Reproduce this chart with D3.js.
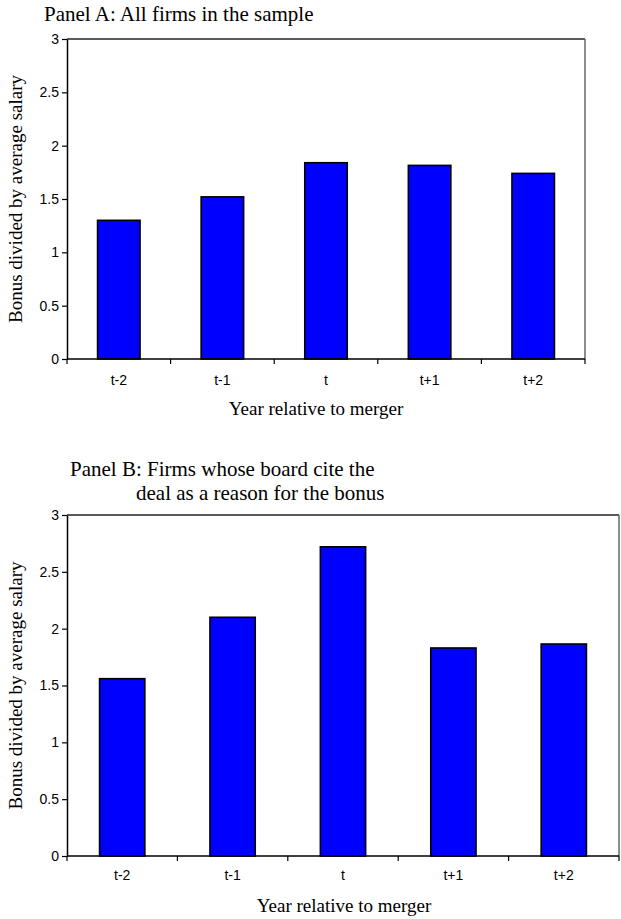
<!DOCTYPE html>
<html><head><meta charset="utf-8">
<script src="https://cdn.jsdelivr.net/npm/d3@7"></script>
<style>body{margin:0;background:#fff;} svg{display:block;}</style>
</head><body>
<script>
const categories = ["t-2","t-1","t","t+1","t+2"];
const valuesA = [1.30, 1.52, 1.84, 1.815, 1.74];
const valuesB = [1.56, 2.10, 2.72, 1.83, 1.865];
const yTicks = [0, 0.5, 1, 1.5, 2, 2.5, 3];
const titleA = ["Panel A: All firms in the sample"];
const titleB = ["Panel B: Firms whose board cite the", "deal as a reason for the bonus"];
const xTitle = "Year relative to merger";
const yTitle = "Bonus divided by average salary";

const W = 621, H = 919;
const svg = d3.select("body").append("svg").attr("width", W).attr("height", H);
const serif = "'Liberation Serif','Times New Roman',serif";
const sans = "'Liberation Sans',Arial,sans-serif";

function panel(cfg) {
  const x = d3.scaleBand().domain(categories).range([cfg.left, cfg.right]).paddingInner(0).paddingOuter(0);
  const y = d3.scaleLinear().domain([0, 3]).range([cfg.bottom, cfg.top]);
  const g = svg.append("g");

  // frame top & right
  g.append("line").attr("x1", cfg.left).attr("x2", cfg.right).attr("y1", cfg.top).attr("y2", cfg.top)
    .attr("stroke", "#222").attr("stroke-width", 1.3);
  g.append("line").attr("x1", cfg.right).attr("x2", cfg.right).attr("y1", cfg.top).attr("y2", cfg.bottom)
    .attr("stroke", "#666").attr("stroke-width", 1.5);

  // bars
  const bw = x.bandwidth() * 0.41;
  g.selectAll("rect.bar").data(cfg.values).join("rect")
    .attr("class", "bar")
    .attr("x", (d, i) => x(categories[i]) + (x.bandwidth() - bw) / 2)
    .attr("y", d => y(d))
    .attr("width", bw)
    .attr("height", d => y(0) - y(d))
    .attr("fill", "#0000ff").attr("stroke", "#000").attr("stroke-width", 1.6);

  // y axis
  const ya = g.append("g").attr("transform", `translate(${cfg.left},0)`)
    .call(d3.axisLeft(y).tickValues(yTicks).tickSize(5).tickSizeOuter(0).tickPadding(3).tickFormat(d3.format("")));
  ya.select(".domain").attr("stroke", "#000").attr("stroke-width", 1.5);
  ya.selectAll(".tick line").attr("stroke", "#000").attr("stroke-width", 1.2);
  ya.selectAll(".tick text").attr("font-family", sans).attr("font-size", 14).attr("fill", "#000");

  // x axis with ticks at band boundaries
  const xa = g.append("g").attr("transform", `translate(0,${cfg.bottom})`);
  xa.append("line").attr("x1", cfg.left).attr("x2", cfg.right).attr("y1", 0).attr("y2", 0)
    .attr("stroke", "#000").attr("stroke-width", 1.5);
  const bounds = categories.map(c => x(c)).concat([cfg.right]);
  xa.selectAll("line.tk").data(bounds).join("line").attr("class", "tk")
    .attr("x1", d => d).attr("x2", d => d).attr("y1", 0).attr("y2", 5)
    .attr("stroke", "#000").attr("stroke-width", 1.2);
  xa.selectAll("text").data(categories).join("text")
    .attr("x", d => x(d) + x.bandwidth() / 2).attr("y", cfg.tickLabelDy)
    .attr("text-anchor", "middle").attr("font-family", sans).attr("font-size", 14).text(d => d);

  // x title
  g.append("text").attr("x", cfg.xTitleX).attr("y", cfg.xTitleY).attr("text-anchor", "middle")
    .attr("font-family", serif).attr("font-size", 19).text(xTitle);
  // y title
  g.append("text").attr("transform", `translate(${cfg.yTitleX},${(cfg.top + cfg.bottom) / 2}) rotate(-90)`)
    .attr("text-anchor", "middle").attr("font-family", serif).attr("font-size", 19).text(yTitle);

  // titles
  cfg.title.forEach((t, i) => {
    g.append("text").attr("x", cfg.titleX[i]).attr("y", cfg.titleY[i])
      .attr("font-family", serif).attr("font-size", 21).text(t);
  });
}

panel({left: 67, right: 585, top: 39, bottom: 359, values: valuesA, tickLabelDy: 26,
  xTitleX: 316, xTitleY: 415, yTitleX: 22, title: titleA, titleX: [44], titleY: [21]});
panel({left: 67, right: 619, top: 515, bottom: 856, values: valuesB, tickLabelDy: 24,
  xTitleX: 344, xTitleY: 912, yTitleX: 22, title: titleB, titleX: [70, 136], titleY: [476, 500]});
</script>
</body></html>
